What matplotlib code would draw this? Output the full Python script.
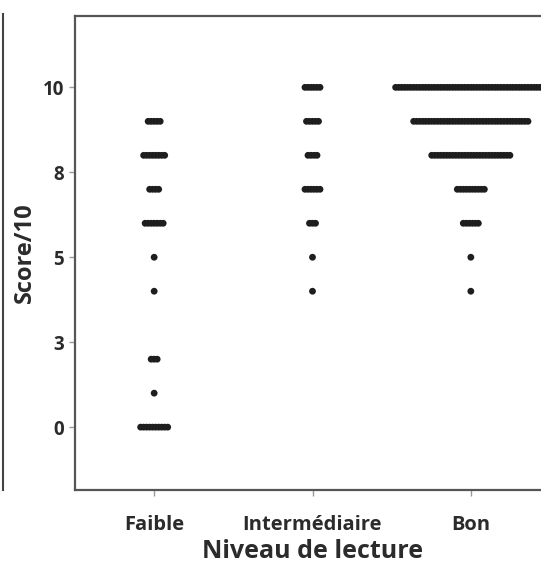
import matplotlib
matplotlib.use("Agg")
import matplotlib.pyplot as plt
import numpy as np
from matplotlib.lines import Line2D

plt.rcParams['font.family'] = ['Open Sans', 'DejaVu Sans']

# Reading level groups and how many pupils obtained each score
categories = ["Faible", "Intermédiaire", "Bon"]
scores = [0, 1, 2, 3, 4, 5, 6, 7, 8, 9, 10]
counts_faible = [10, 1, 3, 0, 1, 1, 7, 4, 8, 5, 0]
counts_intermediaire = [0, 0, 0, 0, 1, 1, 3, 6, 4, 5, 6]
counts_bon = [0, 0, 0, 0, 1, 1, 6, 10, 27, 39, 51]

y_ticks = [0, 2.5, 5, 7.5, 10]
y_tick_labels = ["0", "3", "5", "8", "10"]

W, H = 541, 570
fig = plt.figure(figsize=(W / 100, H / 100), dpi=100)
ax = fig.add_axes([75 / W, (H - 490) / H, 475 / W, 474 / H])

dot_step = 0.019  # horizontal spacing between stacked dots, in category units
for ci, counts in enumerate([counts_faible, counts_intermediaire, counts_bon]):
    for s, n in zip(scores, counts):
        if n == 0:
            continue
        offs = (np.arange(n) - (n - 1) / 2) * dot_step
        ax.scatter(ci + offs, np.full(n, s), s=24, color="#1e1e1e",
                   edgecolors="none", zorder=3)

ax.set_xlim(-0.5, 2.5)
ax.set_ylim(-1.85, 12.1)
ax.set_xticks(range(len(categories)))
ax.set_xticklabels(categories)
ax.set_yticks(y_ticks)
ax.set_yticklabels(y_tick_labels)

for sp in ax.spines.values():
    sp.set_color("#555555")
    sp.set_linewidth(1.6)

ax.tick_params(axis="both", direction="out", length=4, width=1,
               color="#9a9a9a", labelcolor="#2b2b2b")
ax.tick_params(axis="x", pad=14, labelsize=14.5)
ax.tick_params(axis="y", pad=4, labelsize=13.5)
for lbl in ax.get_xticklabels() + ax.get_yticklabels():
    lbl.set_fontweight("bold")

ax.set_xlabel("Niveau de lecture", fontsize=18, fontweight="bold",
              color="#2b2b2b", labelpad=3)
ax.set_ylabel("Score/10", fontsize=17, fontweight="bold",
              color="#2b2b2b", labelpad=4)

# frame edge of the neighbouring panel on the left
fig.add_artist(Line2D([2.5 / W, 2.5 / W], [(H - 14) / H, (H - 490) / H],
                      transform=fig.transFigure, color="#444444", lw=1.5))

fig.savefig("out.png", dpi=100)
